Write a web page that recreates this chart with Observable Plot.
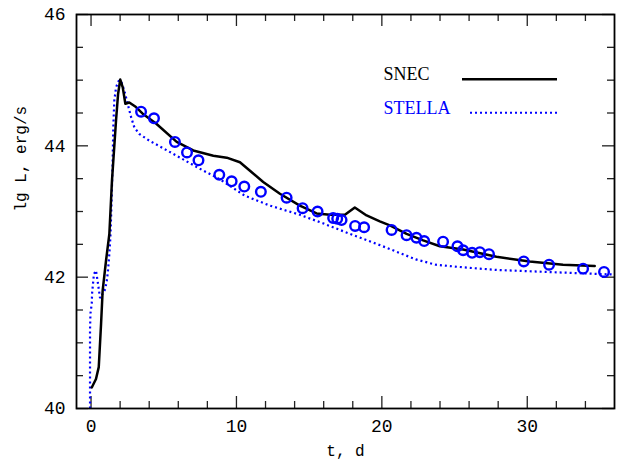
<!DOCTYPE html>
<html><head><meta charset="utf-8">
<script src="https://cdn.jsdelivr.net/npm/d3@7"></script>
<script src="https://cdn.jsdelivr.net/npm/@observablehq/plot@0.6"></script>
<style>html,body{margin:0;padding:0;background:#fff}#chart svg{display:block}</style>
</head><body><div id="chart"></div>
<script>
// SNEC model light curve (t in days, lg L)
const snecT = [0.05, 0.34, 0.53, 0.69, 0.80, 1.03, 1.26, 1.44, 1.72, 1.86, 2.01, 2.18, 2.36, 2.63, 3.09, 3.55, 4.47, 5.89, 7.03, 8.41, 9.33, 10.24, 10.93, 11.84, 12.99, 14.36, 15.51, 16.43, 17.46, 18.14, 18.95, 19.86, 20.55, 21.70, 22.84, 23.99, 25.59, 27.88, 30.17, 32.46, 34.64];
const snecL = [40.32, 40.45, 40.63, 41.29, 41.80, 42.25, 42.66, 43.47, 44.39, 44.79, 45.01, 44.89, 44.64, 44.66, 44.59, 44.49, 44.34, 44.06, 43.93, 43.85, 43.82, 43.75, 43.62, 43.45, 43.27, 43.09, 42.97, 42.95, 42.95, 43.06, 42.94, 42.85, 42.79, 42.66, 42.56, 42.47, 42.42, 42.31, 42.24, 42.19, 42.17];
// STELLA model light curve
const stellaT = [-0.07, -0.07, -0.04, 0.05, 0.07, 0.20, 0.34, 0.48, 0.62, 0.98, 1.10, 1.17, 1.26, 1.33, 1.37, 1.43, 1.48, 1.53, 1.60, 1.72, 1.90, 2.06, 2.29, 2.52, 2.75, 2.98, 3.32, 4.00, 4.74, 6.12, 7.49, 8.87, 10.58, 12.30, 14.36, 15.95, 17.80, 20.07, 22.34, 23.71, 25.57, 27.90, 30.17, 32.44, 35.95];
const stellaL = [40.00, 41.20, 41.45, 41.60, 41.75, 42.05, 42.10, 41.90, 41.68, 41.82, 41.97, 42.11, 42.36, 42.61, 42.86, 43.30, 43.70, 44.28, 44.69, 44.89, 44.99, 44.99, 44.84, 44.64, 44.44, 44.28, 44.18, 44.08, 43.99, 43.82, 43.65, 43.49, 43.24, 43.09, 42.95, 42.82, 42.66, 42.47, 42.27, 42.19, 42.15, 42.11, 42.09, 42.07, 42.04];
// Observations (open circles)
const obsT = [3.44, 4.33, 5.77, 6.60, 7.39, 8.82, 9.67, 10.54, 11.68, 13.45, 14.55, 15.58, 16.65, 16.93, 17.23, 18.16, 18.78, 20.67, 21.70, 22.38, 22.91, 24.21, 25.20, 25.59, 26.21, 26.74, 27.37, 29.76, 31.50, 33.84, 35.28];
const obsL = [44.52, 44.42, 44.06, 43.90, 43.78, 43.56, 43.46, 43.38, 43.30, 43.21, 43.05, 43.00, 42.90, 42.89, 42.87, 42.78, 42.76, 42.72, 42.64, 42.60, 42.55, 42.54, 42.47, 42.41, 42.37, 42.38, 42.35, 42.24, 42.19, 42.13, 42.08];
// Ticks
const xMajor = [0, 10, 20, 30];
const xMinor = [2, 4, 6, 8, 12, 14, 16, 18, 22, 24, 26, 28, 32, 34];
const yMajor = [40, 42, 44, 46];
const yMinor = [40.5, 41, 41.5, 42.5, 43, 43.5, 44.5, 45, 45.5];
const legendNames = ["SNEC", "STELLA"];
const legendColors = ["#000000", "#0000ff"];
const xLabel = "t, d";
const yLabel = "lg L, erg/s";

const W = 626, H = 460, mL = 76, mR = 12, mT = 14, mB = 52;
const pW = W - mL - mR, pH = H - mT - mB;
const snec = snecT.map((t, i) => ({t, L: snecL[i]}));
const stella = stellaT.map((t, i) => ({t, L: stellaL[i]}));
const obs = obsT.map((t, i) => ({t, L: obsL[i]}));
const tickStyle = {stroke: "#222", strokeWidth: 1.3};
const BIG = 12, SMALL = 7;

const legendMark = (index, scales, values, dims) => {
  const g = d3.create("svg:g");
  const x0 = dims.marginLeft, y0 = dims.marginTop;
  g.append("line").attr("x1", x0 + 386).attr("x2", x0 + 481).attr("y1", y0 + 65.3).attr("y2", y0 + 65.3)
    .attr("stroke", legendColors[0]).attr("stroke-width", 2.5);
  g.append("line").attr("x1", x0 + 394).attr("x2", x0 + 481).attr("y1", y0 + 98.7).attr("y2", y0 + 98.7)
    .attr("stroke", legendColors[1]).attr("stroke-width", 2).attr("stroke-dasharray", "2,3");
  return g.node();
};

const chart = Plot.plot({
  width: W, height: H,
  marginLeft: mL, marginRight: mR, marginTop: mT, marginBottom: mB,
  x: {domain: [-1, 36], axis: null},
  y: {domain: [40, 46], axis: null},
  style: {fontFamily: "Liberation Mono", fontSize: "18px", background: "#fff", color: "#000"},
  marks: [
    Plot.ruleX(xMajor, {x: d => d, insetTop: pH - BIG, ...tickStyle}),
    Plot.ruleX(xMajor, {x: d => d, insetBottom: pH - BIG, ...tickStyle}),
    Plot.ruleX(xMinor, {x: d => d, insetTop: pH - SMALL, ...tickStyle}),
    Plot.ruleX(xMinor, {x: d => d, insetBottom: pH - SMALL, ...tickStyle}),
    Plot.ruleY(yMajor, {y: d => d, insetRight: pW - BIG, ...tickStyle}),
    Plot.ruleY(yMajor, {y: d => d, insetLeft: pW - BIG, ...tickStyle}),
    Plot.ruleY(yMinor, {y: d => d, insetRight: pW - SMALL, ...tickStyle}),
    Plot.ruleY(yMinor, {y: d => d, insetLeft: pW - SMALL, ...tickStyle}),
    Plot.line(stella, {x: "t", y: "L", stroke: legendColors[1], strokeWidth: 2.2, strokeDasharray: "2,3", strokeLinecap: "butt", strokeLinejoin: "miter", clip: true}),
    Plot.line(snec, {x: "t", y: "L", stroke: legendColors[0], strokeWidth: 2.5, strokeLinejoin: "round"}),
    Plot.dot(obs, {x: "t", y: "L", r: 4.8, stroke: "#0000ff", strokeWidth: 2.4, fill: "none"}),
    Plot.frame({stroke: "#000", strokeWidth: 1.8}),
    Plot.text(xMajor, {x: d => d, frameAnchor: "bottom", dy: 18, lineAnchor: "middle", text: d => String(d), fontSize: 18}),
    Plot.text(yMajor, {y: d => d, frameAnchor: "left", dx: -11, textAnchor: "end", lineAnchor: "middle", text: d => String(d), fontSize: 18}),
    Plot.text([xLabel], {frameAnchor: "bottom", dy: 42, lineAnchor: "middle", text: d => d, fontSize: 16}),
    Plot.text([yLabel], {frameAnchor: "left", dx: -56, rotate: -90, lineAnchor: "middle", text: d => d, fontSize: 16}),
    Plot.text([legendNames[0]], {frameAnchor: "top-left", dx: 307, dy: 60, textAnchor: "start", lineAnchor: "middle", text: d => d, fill: legendColors[0], fontFamily: "Liberation Serif", fontSize: 18}),
    Plot.text([legendNames[1]], {frameAnchor: "top-left", dx: 307, dy: 93.5, textAnchor: "start", lineAnchor: "middle", text: d => d, fill: legendColors[1], fontFamily: "Liberation Serif", fontSize: 18}),
    legendMark
  ]
});
document.getElementById("chart").appendChild(chart);
</script>
</body></html>
